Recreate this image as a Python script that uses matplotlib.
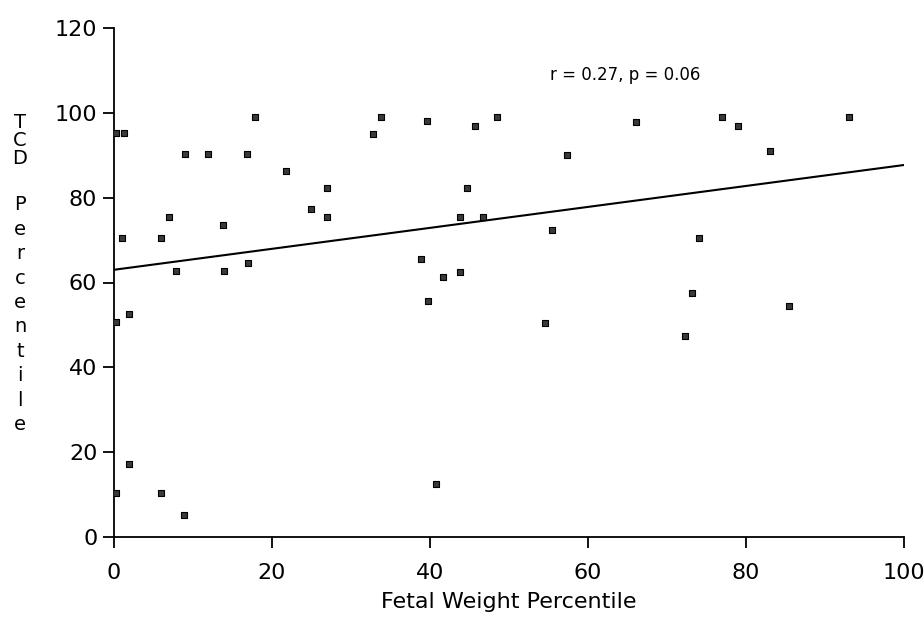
import matplotlib
matplotlib.use("Agg")
import matplotlib.pyplot as plt

# Fetal weight percentile (x) vs TCD percentile (y)
fetal_weight = [17.8, 0.3, 1.3, 9.0, 11.9, 16.8, 21.8, 26.9, 6.9, 24.9, 27.0, 1.0, 6.0,
                13.8, 7.9, 13.9, 16.9, 0.2, 1.9, 1.9, 0.2, 6.0, 8.9,
                33.8, 32.8, 39.6, 45.7, 48.5, 57.3, 44.7, 43.8, 46.7, 55.4, 38.8, 41.7,
                43.8, 39.8, 54.6, 40.8, 66.1, 76.9, 79.0, 93.0, 83.0, 74.1, 73.2, 85.4, 72.3]
tcd = [99.1, 95.2, 95.3, 90.2, 90.2, 90.2, 86.3, 82.2, 75.4, 77.4, 75.4, 70.6, 70.6,
       73.5, 62.6, 62.7, 64.5, 50.6, 52.6, 17.3, 10.4, 10.3, 5.3,
       99.0, 95.1, 98.0, 97.0, 99.0, 90.0, 82.3, 75.4, 75.4, 72.4, 65.5, 61.4,
       62.5, 55.7, 50.5, 12.5, 97.9, 98.9, 96.9, 98.9, 91.1, 70.4, 57.6, 54.4, 47.4]

fit_x = [0, 100]
fit_y = [63.0, 87.7]

x_ticks = [0, 20, 40, 60, 80, 100]
y_ticks = [0, 20, 40, 60, 80, 100, 120]
annotation = "r = 0.27, p = 0.06"
x_label = "Fetal Weight Percentile"
y_label_words = ["TCD", "Percentile"]

plt.rcParams['font.family'] = ['DejaVu Sans']

W, H = 924, 619
fig = plt.figure(figsize=(9.24, 6.19), dpi=100)
ax = fig.add_axes([114 / W, 1 - 537 / H, 790 / W, 509 / H])

ax.plot(fit_x, fit_y, color='black', lw=1.5, zorder=2)
ax.scatter(fetal_weight, tcd, marker='s', s=24, facecolor='#3a3a3a',
           edgecolor='black', linewidth=0.8, zorder=3)

ax.set_xlim(0, 100)
ax.set_ylim(0, 120)
ax.set_xticks(x_ticks)
ax.set_yticks(y_ticks)
for s in ['top', 'right']:
    ax.spines[s].set_visible(False)
for s in ['left', 'bottom']:
    ax.spines[s].set_linewidth(1.3)
ax.tick_params(axis='both', direction='out', length=8, width=1.3,
               labelsize=16, colors='black')
ax.tick_params(axis='x', pad=11)
ax.tick_params(axis='y', pad=4)

ax.set_xlabel(x_label, fontsize=16, labelpad=6)

# stacked vertical y label: letters placed one under another
starts = [122, 205]
steps = [18.5, 24.4]
for word, y0, dy in zip(y_label_words, starts, steps):
    for i, ch in enumerate(word):
        fig.text(20 / W, 1 - (y0 + i * dy) / H, ch, ha='center', va='center',
                 fontsize=14)

ax.text(55.2, 109.0, annotation, ha='left', va='center', fontsize=12)

fig.savefig("out.png", dpi=100)
